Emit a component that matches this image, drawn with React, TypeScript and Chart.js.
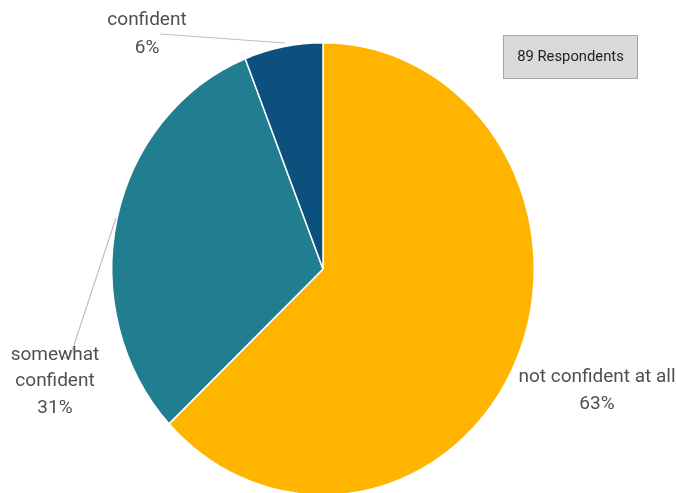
import React, { useEffect, useRef } from "react";
import { Chart, registerables } from "chart.js";

Chart.register(...registerables);

const categories = ["not confident at all", "somewhat confident", "confident"];
const values = [63, 31, 6];
const colors = ["#FFB400", "#217E90", "#0C517E"];
const respondentsText = "89 Respondents";

const CX = 323;
const CY = 269;
const R = 212;
const YSCALE = 227 / 212;

const ellipsePlugin = {
  id: "ellipse",
  beforeDatasetsDraw(chart: any) {
    const ctx = chart.ctx;
    const a = chart.chartArea;
    const cx = (a.left + a.right) / 2;
    const cy = (a.top + a.bottom) / 2;
    ctx.save();
    ctx.translate(cx, cy);
    ctx.scale(1, YSCALE);
    ctx.translate(-cx, -cy);
  },
  afterDatasetsDraw(chart: any) {
    chart.ctx.restore();
  },
};

const labelPlugin = {
  id: "labels",
  afterDraw(chart: any) {
    const ctx = chart.ctx as CanvasRenderingContext2D;
    ctx.save();
    // leader lines
    ctx.strokeStyle = "#BFBFBF";
    ctx.lineWidth = 1.2;
    ctx.beginPath();
    ctx.moveTo(160, 34);
    ctx.lineTo(285, 43);
    ctx.stroke();
    ctx.beginPath();
    ctx.moveTo(116, 218);
    ctx.lineTo(70, 357);
    ctx.lineTo(64, 358);
    ctx.stroke();

    ctx.fillStyle = "#4F4F4F";
    ctx.font = '19px Roboto, "Noto Sans", sans-serif';
    ctx.textAlign = "center";
    ctx.textBaseline = "middle";
    const pct = (i: number) => `${values[i]}%`;
    // confident
    ctx.fillText("confident", 147, 20);
    ctx.fillText(pct(2), 147, 48);
    // somewhat confident
    ctx.fillText("somewhat", 55, 355);
    ctx.fillText("confident", 55, 381);
    ctx.fillText(pct(1), 55, 408);
    // not confident at all
    ctx.fillText(categories[0], 597, 377);
    ctx.fillText(pct(0), 597, 404);

    // respondents box
    ctx.fillStyle = "#D9D9D9";
    ctx.fillRect(503, 35, 135, 44);
    ctx.strokeStyle = "#A6A6A6";
    ctx.lineWidth = 1;
    ctx.strokeRect(503.5, 35.5, 134, 43);
    ctx.fillStyle = "#1F1F1F";
    ctx.font = '14.8px Roboto, "Noto Sans", sans-serif';
    ctx.fillText(respondentsText, 570.5, 57.5);
    ctx.restore();
  },
};

export default function App() {
  const ref = useRef<HTMLCanvasElement | null>(null);
  useEffect(() => {
    document.body.style.margin = "0";
    if (!ref.current) return;
    const chart = new Chart(ref.current, {
      type: "pie",
      data: {
        labels: categories,
        datasets: [
          {
            data: values,
            backgroundColor: colors,
            borderColor: "#FFFFFF",
            borderWidth: 1.5,
          },
        ],
      },
      options: {
        responsive: false,
        animation: false,
        events: [],
        layout: {
          padding: {
            left: CX - R,
            right: 676 - (CX + R),
            top: CY - R,
            bottom: 493 - (CY + R),
          },
        },
        plugins: {
          legend: { display: false },
          tooltip: { enabled: false },
        },
      },
      plugins: [ellipsePlugin, labelPlugin],
    });
    return () => chart.destroy();
  }, []);
  return (
    <div style={{ position: "fixed", left: 0, top: 0, width: 676, height: 493, background: "#fff" }}>
      <canvas ref={ref} width={676} height={493} style={{ display: "block" }} />
    </div>
  );
}
